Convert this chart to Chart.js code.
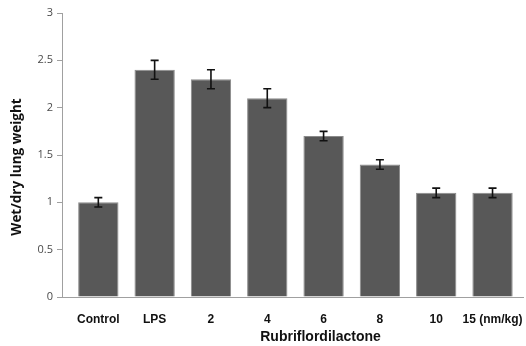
<!DOCTYPE html>
<html>
<head>
<meta charset="utf-8">
<script src="https://cdn.jsdelivr.net/npm/chart.js@4"></script>
<style>
  html, body { margin: 0; padding: 0; background: #fff; }
  #wrap { width: 526px; height: 346px; }
</style>
</head>
<body>
<div id="wrap"><canvas id="lungChart" width="526" height="346"></canvas></div>
<script>
const categories = ['Control', 'LPS', '2', '4', '6', '8', '10', '15 (nm/kg)'];
const ratios = [1.0, 2.4, 2.3, 2.1, 1.7, 1.4, 1.1, 1.1];
const errors = [0.05, 0.1, 0.1, 0.1, 0.05, 0.05, 0.05, 0.05];
const yTicks = [0, 0.5, 1, 1.5, 2, 2.5, 3];

// the original puts a wider gap before the first bar than after the last
const shiftBands = {
    id: 'shiftBands',
    afterLayout(chart) {
        const x = chart.scales.x;
        x._startValue = -0.645;
        x._valueRange = 8.186;
    }
};

// error bars drawn from the scales
const errorBars = {
    id: 'errorBars',
    afterDatasetsDraw(chart) {
        const c = chart.ctx;
        const y = chart.scales.y;
        const meta = chart.getDatasetMeta(0);
        c.save();
        c.strokeStyle = '#111';
        c.lineWidth = 1.6;
        meta.data.forEach(function (bar, i) {
            const top = y.getPixelForValue(ratios[i] + errors[i]);
            const bot = y.getPixelForValue(ratios[i] - errors[i]);
            c.beginPath();
            c.moveTo(bar.x, top); c.lineTo(bar.x, bot);
            c.moveTo(bar.x - 4, top); c.lineTo(bar.x + 4, top);
            c.moveTo(bar.x - 4, bot); c.lineTo(bar.x + 4, bot);
            c.stroke();
        });
        c.restore();
    }
};

// axis captions, placed a bit off-centre like the original
const captions = {
    id: 'captions',
    afterDraw(chart) {
        const c = chart.ctx;
        const a = chart.chartArea;
        c.save();
        c.fillStyle = '#111';
        c.textAlign = 'center';
        c.textBaseline = 'middle';
        c.font = 'bold 14px "Liberation Sans"';
        c.fillText('Rubriflordilactone', (a.left + a.right) / 2 + 28, 337);
        c.translate(17, (a.top + a.bottom) / 2 + 12);
        c.rotate(-Math.PI / 2);
        c.font = 'bold 13.5px "Open Sans"';
        c.fillText('Wet/dry lung weight', 0, 0);
        c.restore();
    }
};

new Chart(document.getElementById('lungChart'), {
    type: 'bar',
    data: {
        labels: categories,
        datasets: [{
            data: ratios,
            backgroundColor: '#585858',
            borderColor: '#8a8a8a',
            borderWidth: 1,
            barPercentage: 0.716,
            categoryPercentage: 1
        }]
    },
    options: {
        responsive: false,
        animation: false,
        layout: { padding: { top: 13, right: 3, bottom: 2, left: 4 } },
        scales: {
            y: {
                min: 0,
                max: 3,
                afterBuildTicks(axis) { axis.ticks = yTicks.map(v => ({ value: v })); },
                afterFit(axis) { axis.width = 58; axis.paddingTop = 0; axis.paddingBottom = 0; },
                ticks: {
                    color: '#4a4a4a',
                    font: { family: 'Open Sans', size: 11 },
                    padding: 4,
                    callback: v => String(v)
                },
                grid: { display: true, drawOnChartArea: false, drawTicks: true, tickLength: 5, color: '#a0a0a0' },
                border: { color: '#a0a0a0' }
            },
            x: {
                afterFit(axis) { axis.height = 47; axis.paddingLeft = 0; axis.paddingRight = 0; },
                ticks: {
                    color: '#111',
                    font: { family: 'Liberation Sans', size: 12, weight: 'bold' },
                    padding: 7,
                    maxRotation: 0,
                    autoSkip: false
                },
                grid: { display: false },
                border: { color: '#a0a0a0' }
            }
        },
        plugins: {
            legend: { display: false },
            tooltip: { enabled: false }
        }
    },
    plugins: [shiftBands, errorBars, captions]
});
</script>
</body>
</html>
